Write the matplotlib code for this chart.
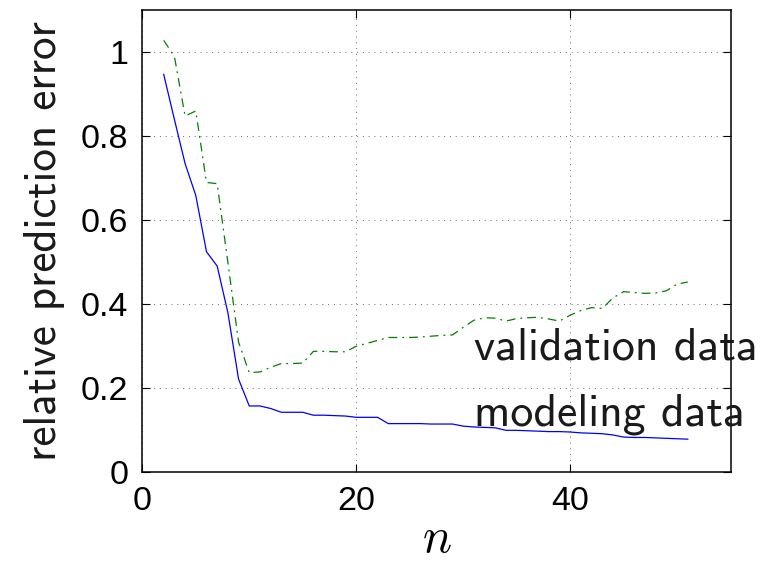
import numpy as np
import matplotlib
matplotlib.use("Agg")
import matplotlib.pyplot as plt

# numero de variables n y errores relativos
n = np.arange(2, 52)
modeling = [0.947, 0.84, 0.735, 0.659, 0.525, 0.491, 0.38, 0.222, 0.158, 0.158,
            0.152, 0.143, 0.143, 0.143, 0.136, 0.136, 0.135, 0.134, 0.131, 0.131,
            0.131, 0.116, 0.116, 0.116, 0.116, 0.115, 0.115, 0.115, 0.110, 0.108,
            0.107, 0.106, 0.100, 0.100, 0.099, 0.098, 0.097, 0.097, 0.096, 0.094,
            0.093, 0.092, 0.089, 0.084, 0.083, 0.083, 0.082, 0.081, 0.080, 0.079]
validation = [1.028, 0.99, 0.848, 0.860, 0.69, 0.687, 0.50, 0.31, 0.237, 0.239,
              0.25, 0.259, 0.259, 0.260, 0.288, 0.288, 0.287, 0.287, 0.300, 0.307,
              0.314, 0.321, 0.321, 0.321, 0.322, 0.324, 0.326, 0.327, 0.345, 0.362,
              0.368, 0.367, 0.360, 0.366, 0.368, 0.369, 0.365, 0.360, 0.374, 0.385,
              0.392, 0.390, 0.415, 0.430, 0.428, 0.426, 0.427, 0.432, 0.448, 0.453]

xticks = [0, 20, 40]
yticks = [0, 0.2, 0.4, 0.6, 0.8, 1.0]
ytick_labels = ['0', '0.2', '0.4', '0.6', '0.8', '1']

plt.rcParams['mathtext.fontset'] = 'cm'

fig = plt.figure(figsize=(7.61, 5.63), dpi=100)
ax = fig.add_axes([0.187, 0.161, 0.773, 0.821])

ax.plot(n, modeling, color='#0000ff', lw=0.9)
ax.plot(n, validation, color='#008000', lw=0.9, linestyle=(0, (7, 4, 1.5, 4)))

# texto de las curvas
ax.text(31.0, 0.269, 'validation data', family='cmss10', fontsize=33, color='#1a1a1a')
ax.text(31.0, 0.1125, 'modeling data', family='cmss10', fontsize=33, color='#1a1a1a')

ax.set_xlim(0, 55)
ax.set_ylim(0, 1.1)
ax.set_xticks(xticks)
ax.set_xticklabels([str(v) for v in xticks], family='Liberation Sans')
ax.set_yticks(yticks)
ax.set_yticklabels(ytick_labels, family='Liberation Sans')
ax.tick_params(direction='in', top=True, right=True, length=6, width=0.8,
               labelsize=24.5, pad=10)
ax.grid(True, color='0.45', linewidth=0.72, linestyle=(0, (1, 4.8)))
for s in ax.spines.values():
    s.set_linewidth(1.1)

ax.set_xlabel('$n$', fontsize=35)
ax.xaxis.set_label_coords(0.5, -0.173)
ax.xaxis.label.set_va('baseline')
ax.set_ylabel('relative prediction error', family='cmss10', fontsize=32.5, color='#1a1a1a')
ax.yaxis.set_label_coords(-0.132, 0.5)

fig.savefig('out.png', dpi=100)
